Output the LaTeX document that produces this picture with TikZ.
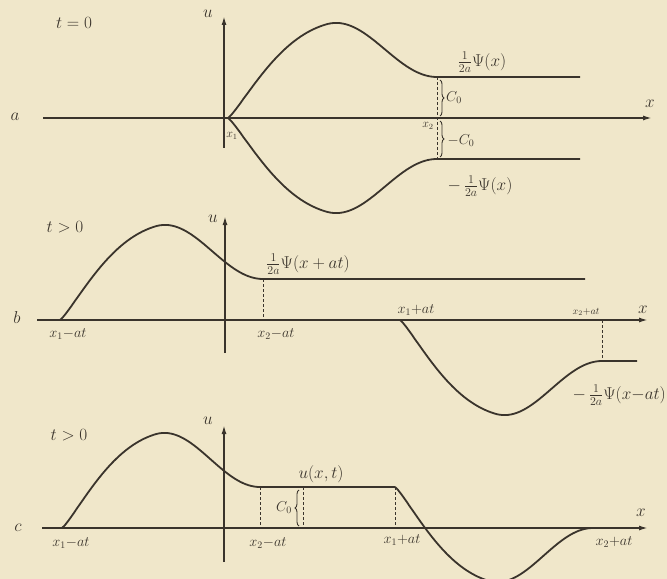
\documentclass[tikz,border=0pt]{standalone}
\usepackage{amsmath}
\usepackage{xcolor}
\usetikzlibrary{arrows.meta,decorations.pathreplacing}
\definecolor{Paper}{HTML}{F0E7CA}
\definecolor{Ink}{HTML}{3A342C}

\begin{document}
\begin{tikzpicture}[
    x=1bp, y=-1bp,
    declare function={
        rise(\s)=sin(90*pow(\s/0.47+0.00001,0.6));
        fall(\s)=sin(90*(1-\s)/0.53);
        bump(\s)=ifthenelse(\s<0.47, rise(\s)*rise(\s), fall(\s)*fall(\s));
        prof(\s)=41*(3*\s*\s-2*\s*\s*\s)+75*bump(\s);
    },
    axis/.style={
        -{Latex[length=9bp,width=5bp]},
        line width=1.6bp,
        draw=Ink
    },
    curve/.style={
        line width=1.8bp,
        draw=Ink,
        line join=round
    },
    guide/.style={
        draw=Ink,
        line width=0.8bp,
        dash pattern=on 3bp off 2bp
    },
    cbrace/.style={
        decorate,
        decoration={brace, amplitude=4bp},
        draw=Ink,
        line width=0.9bp
    },
    lab/.style={
        text=Ink,
        font=\fontsize{17.28}{19}\selectfont,
        inner sep=1bp
    },
    ptlab/.style={
        text=Ink,
        font=\fontsize{14.4}{16}\selectfont,
        inner sep=1bp
    },
    fnlab/.style={
        text=Ink,
        font=\fontsize{17.28}{19}\selectfont,
        inner sep=1bp
    }
]

% Background
\fill[Paper] (0,0) rectangle (667,579);
\useasboundingbox (0,0) rectangle (667,579);

% ===========================
% Panel a: t = 0
% ===========================

\coordinate (aW) at (43,118);
\coordinate (aE) at (652,118);
\coordinate (aS) at (224,148);
\coordinate (aN) at (224,16);
\draw[axis] (aW) -- (aE);
\draw[axis] (aS) -- (aN);

\draw[curve] plot[domain=0:1, samples=70, variable=\s] ({228+209*\s},{118-prof(\s)}) -- (580,77);
\draw[curve] plot[domain=0:1, samples=70, variable=\s] ({228+209*\s},{118+prof(\s)}) -- (580,159);

\draw[guide] (437,77) -- (437,159);
\draw[cbrace] (440,80) -- (440,116);
\draw[cbrace] (440,121) -- (440,157);

\node[lab] (ta) at (74,23) {$t=0$};
\node[lab] (ua) at (208,14) {$u$};
\node[lab] (pa) at (15,117) {$a$};
\node[lab] (xa) at (650,104) {$x$};
\node[ptlab, font=\fontsize{12}{14}\selectfont] (x1a) at (232,136) {$x_1$};
\node[ptlab, font=\fontsize{12}{14}\selectfont] (x2a) at (428,126) {$x_2$};
\node[ptlab] (cA) at (454,98) {$C_0$};
\node[ptlab] (mcA) at (461,141) {$-C_0$};
\node[fnlab] (psiA) at (482,62) {$\tfrac{1}{2a}\Psi(x)$};
\node[fnlab] (mpsiA) at (480,186) {$-\,\tfrac{1}{2a}\Psi(x)$};

% ===========================
% Panel b: t > 0, two waves apart
% ===========================

\coordinate (bW) at (37,320);
\coordinate (bE) at (648,320);
\coordinate (bS) at (225,353);
\coordinate (bN) at (225,216);
\draw[axis] (bW) -- (bE);
\draw[axis] (bS) -- (bN);

\draw[curve] plot[domain=0:1, samples=70, variable=\s] ({60+203*\s},{320-prof(\s)}) -- (585,279);
\draw[curve] plot[domain=0:1, samples=70, variable=\s] ({400+202*\s},{320+prof(\s)}) -- (637,361);

\draw[guide] (263,279) -- (263,320);
\draw[guide] (602,320) -- (602,361);

\node[lab] (tb) at (65,227) {$t>0$};
\node[lab] (ub) at (213,219) {$u$};
\node[lab] (pb) at (17,318) {$b$};
\node[lab] (xb) at (643,310) {$x$};
\node[ptlab] (x1mb) at (68,334) {$x_1{-}at$};
\node[ptlab] (x2mb) at (276,334) {$x_2{-}at$};
\node[ptlab] (x1pb) at (416,310) {$x_1{+}at$};
\node[ptlab, font=\fontsize{10}{12}\selectfont] (x2pb) at (586,312) {$x_2{+}at$};
\node[fnlab] (psiB) at (308,264) {$\tfrac{1}{2a}\Psi(x+at)$};
\node[fnlab, anchor=east] (mpsiB) at (667,395) {$-\,\tfrac{1}{2a}\Psi(x{-}at)$};

% ===========================
% Panel c: t > 0, sum u(x,t)
% ===========================

\coordinate (cW) at (42,528);
\coordinate (cE) at (648,528);
\coordinate (cS) at (224,562);
\coordinate (cN) at (224,425);
\draw[axis] (cW) -- (cE);
\draw[axis] (cS) -- (cN);

\draw[curve] plot[domain=0:1, samples=70, variable=\s] ({62+198*\s},{528-prof(\s)})
    -- (395,487)
    plot[domain=0:1, samples=70, variable=\s] ({395+198*\s},{487+prof(\s)});

\draw[guide] (260,487) -- (260,528);
\draw[guide] (303,487) -- (303,528);
\draw[guide] (395,487) -- (395,528);
\draw[cbrace] (299,526) -- (299,490);

\node[lab] (tc) at (69,435) {$t>0$};
\node[lab] (uc) at (208,421) {$u$};
\node[lab] (pc) at (18,528) {$c$};
\node[lab] (xc) at (641,513) {$x$};
\node[ptlab] (x1mc) at (71,543) {$x_1{-}at$};
\node[ptlab] (x2mc) at (268,543) {$x_2{-}at$};
\node[ptlab] (x1pc) at (402,540) {$x_1{+}at$};
\node[ptlab] (x2pc) at (614,542) {$x_2{+}at$};
\node[fnlab] (uxt) at (321,474) {$u(x,t)$};
\node[ptlab] (cC) at (284,508) {$C_0$};

\end{tikzpicture}
\end{document}
